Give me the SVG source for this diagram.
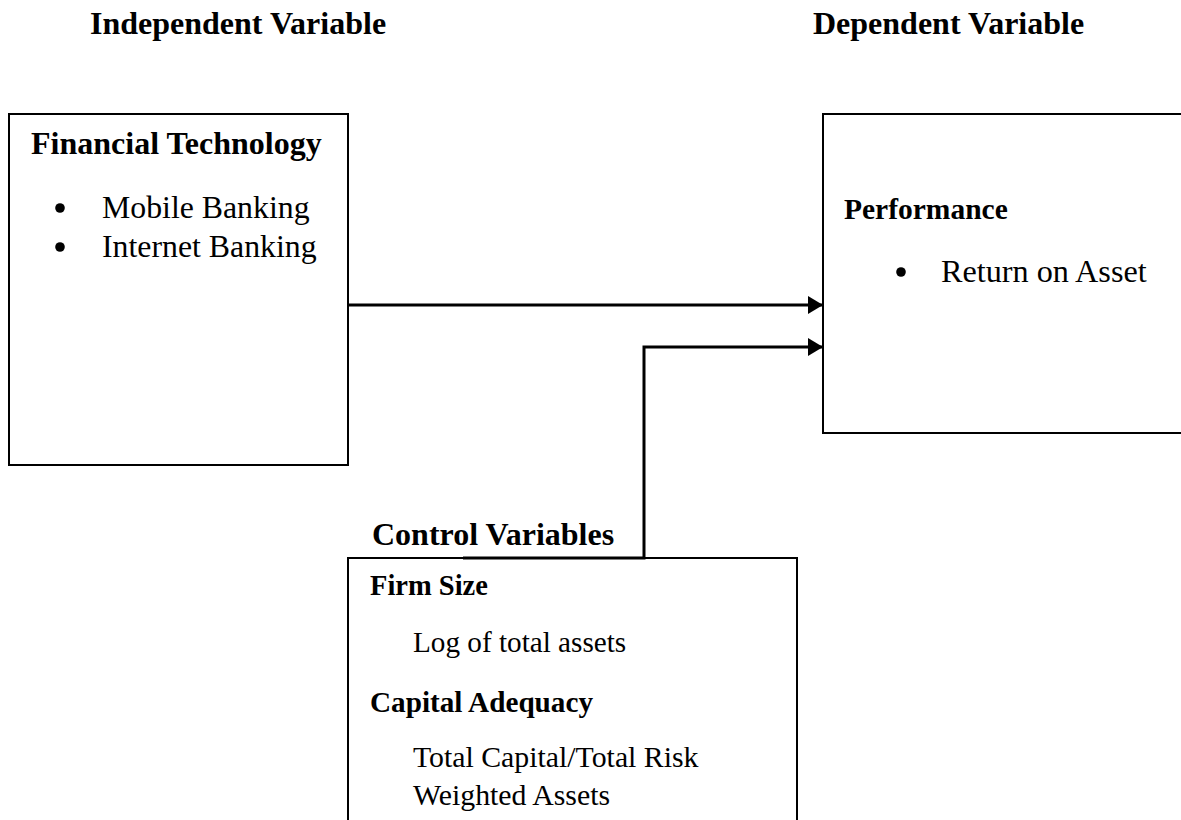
<svg xmlns="http://www.w3.org/2000/svg" width="1181" height="820" viewBox="0 0 1181 820">
<style>
.b{font-family:"Liberation Serif","Times New Roman",serif;font-weight:bold;fill:#000}
.r{font-family:"Liberation Serif","Times New Roman",serif;fill:#000}
.dot{fill:#000}
.box{fill:none;stroke:#000;stroke-width:2}
.con{fill:none;stroke:#000;stroke-width:3}
</style>
<defs>
<marker id="ah" markerUnits="userSpaceOnUse" markerWidth="15" markerHeight="18" refX="15" refY="9" orient="auto">
<path d="M0,0 L15,9 L0,18 z" fill="#000"/>
</marker>
</defs>
<rect width="1181" height="820" fill="#fff"/>
<g id="headers">
<text class="b" x="90" y="34" font-size="32">Independent Variable</text>
<text class="b" x="813" y="34" font-size="32">Dependent Variable</text>
</g>
<g id="node-fintech">
<rect class="box" x="9" y="114" width="339" height="351"/>
<text class="b" x="31" y="154" font-size="32">Financial Technology</text>
<circle class="dot" cx="60" cy="208" r="4.8"/>
<text class="r" x="102" y="218" font-size="31.8">Mobile Banking</text>
<circle class="dot" cx="60" cy="247" r="4.8"/>
<text class="r" x="102" y="257" font-size="31.8">Internet Banking</text>
</g>
<g id="node-performance">
<path class="box" d="M1190,114 H823 V433 H1190"/>
<text class="b" x="844" y="219" font-size="29.5">Performance</text>
<circle class="dot" cx="901" cy="272" r="4.8"/>
<text class="r" x="941" y="282" font-size="32.2">Return on Asset</text>
</g>
<g id="node-control">
<text class="b" x="372" y="545" font-size="32">Control Variables</text>
<path class="box" d="M348,830 V558 H797 V830"/>
<text class="b" x="370" y="595" font-size="28.5">Firm Size</text>
<text class="r" x="413" y="652" font-size="29.2">Log of total assets</text>
<text class="b" x="370" y="712" font-size="29.2">Capital Adequacy</text>
<text class="r" x="413" y="767" font-size="29.8">Total Capital/Total Risk</text>
<text class="r" x="413" y="805" font-size="29.8">Weighted Assets</text>
</g>
<g id="connectors">
<path class="con" d="M348,305 H823" marker-end="url(#ah)"/>
<path class="con" d="M463,558 H644 V347 H823" marker-end="url(#ah)"/>
</g>
</svg>
